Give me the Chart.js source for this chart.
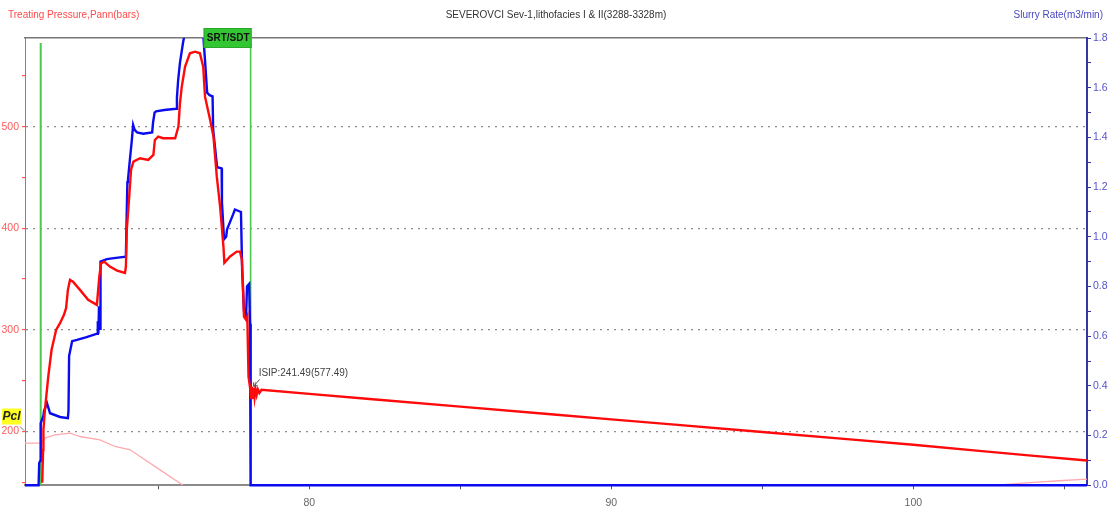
<!DOCTYPE html>
<html>
<head>
<meta charset="utf-8">
<script src="https://cdn.jsdelivr.net/npm/chart.js@4.4.1/dist/chart.umd.min.js"></script>
<style>
  html, body { margin: 0; padding: 0; background: #fff; }
  canvas { display: block; }
</style>
</head>
<body>
<canvas id="c" width="1111" height="513"></canvas>
<script>
// ---- Text ----
const chartTitle = 'SEVEROVCI Sev-1,lithofacies I & II(3288-3328m)';
const pressureAxisTitle = 'Treating Pressure,Pann(bars)';
const rateAxisTitle = 'Slurry Rate(m3/min)';
const stageLabel = 'SRT/SDT';
const closureLabel = 'Pcl';

// ---- Axis ranges and ticks ----
const timeRange = [70.59, 105.75];          // minutes
const pressureRange = [147.1, 587.2];       // bars
const rateRange = [0, 1.8];                 // m3/min
const timeTicks = [75, 80, 85, 90, 95, 100, 105];
const pressureTicks = [150, 200, 250, 300, 350, 400, 450, 500, 550];
const rateTicks = [0, 0.1, 0.2, 0.3, 0.4, 0.5, 0.6, 0.7, 0.8, 0.9, 1.0, 1.1, 1.2, 1.3, 1.4, 1.5, 1.6, 1.7, 1.8];

// ---- Events ----
const pumpStartTime = 71.11;
const shutInTime = 78.06;
const isipPressure = 241.49;
const isipSecond = 577.49;
const closurePressure = 200;

// ---- Treating pressure (bars) ----
const pressureTime = [71.16, 71.19, 71.20, 71.25, 71.36, 71.47, 71.62, 71.75, 71.88, 71.95,
  72.01, 72.08, 72.18, 72.41, 72.68, 72.97, 73.05, 73.11, 73.21, 73.40,
  73.64, 73.90, 73.93, 73.96, 74.04, 74.10, 74.18, 74.40, 74.67, 74.84,
  74.89, 75.00, 75.16, 75.56, 75.67, 75.72, 75.78, 75.89, 76.05, 76.22,
  76.38, 76.49, 76.55, 76.72, 76.83, 76.94, 77.05, 77.16, 77.19, 77.38,
  77.60, 77.71, 77.77, 77.80, 77.84, 77.91, 77.95, 77.99, 78.05, 78.08,
  78.10, 78.13, 78.16, 78.19, 78.22, 78.26, 78.30, 78.35, 78.42, 80,
  82, 85, 88, 90, 92, 95, 98, 100, 102, 104, 105.75];
const pressureBars = [149.6, 182, 201.7, 221.4, 254.1, 280.4, 300, 306.6, 314.8, 321.4,
  339.4, 349.2, 347.5, 339.4, 329.6, 324.6, 352.4, 365.6, 367.2, 362.3,
  358.3, 356, 362.3, 398.4, 431.1, 457.4, 465.5, 468.9, 467.2, 472.1,
  486.9, 490.1, 488.6, 488.6, 500, 523, 539.3, 559, 572.2, 573.7,
  572.2, 559, 529.5, 506.5, 490.1, 450.8, 421.3, 382, 366, 372.2,
  377, 377, 369, 349.2, 313.1, 309.9, 313.1, 254.1, isipPressure, 233,
  244, 232, 243, 234, 242, 236, 241.5, 238, 241, 237,
  232, 224.5, 217, 212, 207, 199.5, 192, 187, 181.5, 176, 171.5];

// ---- Slurry rate (m3/min) ----
const rateTime = [70.59, 71.04, 71.06, 71.10, 71.11, 71.20, 71.22, 71.32, 71.42, 71.75,
  72.01, 72.03, 72.05, 72.15, 72.31, 72.60, 72.98, 73.00, 73.02, 73.04,
  73.06, 73.08, 73.09, 73.30, 73.60, 73.93, 73.95, 73.98, 74.00, 74.07,
  74.12, 74.17, 74.22, 74.30, 74.50, 74.80, 74.83, 74.88, 74.93, 75.20,
  75.59, 75.62, 75.66, 75.72, 75.82, 75.90, 75.95, 76.20, 76.48, 76.52,
  76.55, 76.62, 76.70, 76.80, 76.82, 76.95, 77.10, 77.11, 77.18, 77.25,
  77.28, 77.38, 77.48, 77.54, 77.74, 77.78, 77.84, 77.91, 77.94, 78.01,
  78.04, 78.05, 78.07, 105.75];
const rateValues = [0, 0, 0.09, 0.10, 0.25, 0.28, 0.30, 0.33, 0.29, 0.275,
  0.27, 0.30, 0.52, 0.58, 0.585, 0.595, 0.61, 0.66, 0.61, 0.72,
  0.63, 0.63, 0.90, 0.91, 0.915, 0.92, 1.05, 1.22, 1.23, 1.32,
  1.38, 1.45, 1.43, 1.42, 1.415, 1.42, 1.46, 1.50, 1.505, 1.51,
  1.515, 1.56, 1.63, 1.70, 1.78, 1.83, 1.86, 1.88, 1.84, 1.76,
  1.71, 1.58, 1.57, 1.565, 1.43, 1.28, 1.275, 1.14, 0.99, 1.00,
  1.03, 1.06, 1.09, 1.11, 1.10, 0.86, 0.70, 0.68, 0.80, 0.81,
  0.65, 0.18, 0, 0];

// ---- Annulus pressure, Pann (bars) ----
const annulusTime = [70.59, 71.15, 71.25, 71.58, 72.08, 72.41, 73.07, 73.57, 74.07, 74.40,
  75.06, 75.82, 76.0, 102.64, 103.97, 104.96, 105.75];
const annulusBars = [188.6, 188.6, 193.5, 196.8, 198.4, 195.1, 191.8, 185.3, 182, 175.4,
  162.3, 147.1, null, 147.1, 149.9, 151.8, 153.2];

const FONT = 'Arial, "Liberation Sans", sans-serif';
Chart.defaults.font.family = FONT;
Chart.defaults.font.size = 10.5;

const pts = (xs, ys) => xs.map((x, i) => ({ x, y: ys[i] }));
const vline = t => [{ x: t, y: pressureRange[0] }, { x: t, y: 582.3 }];

// Labels, boxes and arrows laid over the plot
const overlay = {
  id: 'overlay',
  afterDraw(chart) {
    const { ctx } = chart;
    const xs = chart.scales.x, yp = chart.scales.yP;
    ctx.save();
    ctx.textBaseline = 'middle';
    ctx.font = '10px ' + FONT;

    ctx.fillStyle = '#ff4a4a';
    ctx.textAlign = 'left';
    ctx.fillText(pressureAxisTitle, 8, 15);

    ctx.fillStyle = '#333';
    ctx.textAlign = 'center';
    ctx.fillText(chartTitle, 556, 15);

    ctx.fillStyle = '#4848c0';
    ctx.textAlign = 'right';
    ctx.fillText(rateAxisTitle, 1103, 15);

    // SRT/SDT tag at shut-in
    const sx = xs.getPixelForValue(shutInTime);
    ctx.fillStyle = '#33c633';
    ctx.fillRect(sx - 47, 28, 48, 20);
    ctx.strokeStyle = '#2aa82a';
    ctx.lineWidth = 1;
    ctx.strokeRect(sx - 46.5, 28.5, 47, 19);
    ctx.fillStyle = '#111';
    ctx.textAlign = 'center';
    ctx.font = 'bold 10px ' + FONT;
    ctx.fillText(stageLabel, sx - 22.5, 38.5);

    // Closure pressure tag
    const py = yp.getPixelForValue(closurePressure);
    ctx.fillStyle = '#ffff22';
    ctx.fillRect(2, py - 23, 19, 16);
    ctx.fillStyle = '#222';
    ctx.font = 'italic bold 12px ' + FONT;
    ctx.fillText(closureLabel, 11.5, py - 14.5);
    ctx.strokeStyle = '#777';
    ctx.beginPath();
    ctx.moveTo(20, py - 5);
    ctx.lineTo(24, py - 1);
    ctx.stroke();

    // ISIP annotation
    const ix = xs.getPixelForValue(shutInTime), iy = yp.getPixelForValue(isipPressure);
    ctx.fillStyle = '#444';
    ctx.font = '10px ' + FONT;
    ctx.textAlign = 'left';
    ctx.fillText('ISIP:' + isipPressure.toFixed(2) + '(' + isipSecond.toFixed(2) + ')', ix + 8, iy - 16);
    ctx.strokeStyle = '#555';
    ctx.beginPath();
    ctx.moveTo(ix + 9, iy - 10);
    ctx.lineTo(ix + 3, iy - 3);
    ctx.stroke();
    ctx.beginPath();
    ctx.moveTo(ix + 3, iy - 7);
    ctx.lineTo(ix + 3, iy - 3);
    ctx.lineTo(ix + 7, iy - 4);
    ctx.stroke();
    ctx.restore();
  }
};

new Chart(document.getElementById('c'), {
  type: 'line',
  data: {
    datasets: [
      { label: 'Treating Pressure', data: pts(pressureTime, pressureBars), yAxisID: 'yP',
        borderColor: '#ff0a0a', borderWidth: 2.4, pointRadius: 0, order: 0 },
      { label: 'Slurry Rate', data: pts(rateTime, rateValues), yAxisID: 'yR',
        borderColor: '#0b0bf0', borderWidth: 2.4, pointRadius: 0, order: 1,
        clip: { left: 0, top: 0, right: 0, bottom: 3 } },
      { label: 'Pann', data: pts(annulusTime, annulusBars), yAxisID: 'yP',
        borderColor: '#ffaab0', borderWidth: 1.3, pointRadius: 0, order: 2, clip: 0 },
      { label: 'Pump start', data: vline(pumpStartTime), yAxisID: 'yP',
        borderColor: '#4cc84c', borderWidth: 2, pointRadius: 0, order: 3 },
      { label: 'Shut-in', data: vline(shutInTime), yAxisID: 'yP',
        borderColor: '#4cc84c', borderWidth: 1.6, pointRadius: 0, order: 3 }
    ]
  },
  options: {
    responsive: false,
    devicePixelRatio: 1,
    animation: false,
    layout: { padding: { top: 38, left: 0, right: 0, bottom: 0 } },
    plugins: { legend: { display: false }, tooltip: { enabled: false } },
    elements: { line: { tension: 0 } },
    scales: {
      x: {
        type: 'linear', position: 'bottom', min: timeRange[0], max: timeRange[1],
        afterBuildTicks: s => { s.ticks = timeTicks.map(v => ({ value: v })); },
        afterFit: s => { s.height = 27.7; },
        ticks: { color: '#666', padding: 8, autoSkip: false, maxRotation: 0,
          callback: v => (v % 10 === 0 ? String(v) : '') },
        grid: { drawOnChartArea: false, tickLength: 4, tickColor: '#555' },
        border: { color: '#8a8a8a', width: 2 }
      },
      xTop: {
        type: 'linear', position: 'top', min: timeRange[0], max: timeRange[1],
        afterFit: s => { s.height = 0; },
        ticks: { display: false },
        grid: { drawOnChartArea: false, drawTicks: false },
        border: { color: '#777', width: 1.5 }
      },
      yP: {
        type: 'linear', position: 'left', min: pressureRange[0], max: pressureRange[1],
        afterBuildTicks: s => { s.ticks = pressureTicks.map(v => ({ value: v })); },
        afterFit: s => { s.width = 25; },
        ticks: { color: '#ff5a5a', padding: 3, autoSkip: false,
          callback: v => (v % 100 === 0 ? String(v) : '') },
        grid: {
          color: c => (c.tick && c.tick.value % 100 === 0 ? '#8c8c8c' : 'rgba(0,0,0,0)'),
          tickColor: '#ff5a5a', tickLength: 3, lineWidth: 1.2
        },
        border: { color: '#ff5050', width: 1, dash: [2, 5] }
      },
      yR: {
        type: 'linear', position: 'right', min: rateRange[0], max: rateRange[1],
        afterBuildTicks: s => { s.ticks = rateTicks.map(v => ({ value: v })); },
        afterFit: s => { s.width = 24; },
        ticks: { color: '#5555cc', padding: 2, autoSkip: false,
          callback: v => (Math.round(v * 10) % 2 === 0 ? v.toFixed(1) : '') },
        grid: { drawOnChartArea: false, tickColor: '#3535a5', tickLength: 4 },
        border: { color: '#3535a5', width: 2 }
      }
    }
  },
  plugins: [overlay]
});
</script>
</body>
</html>
